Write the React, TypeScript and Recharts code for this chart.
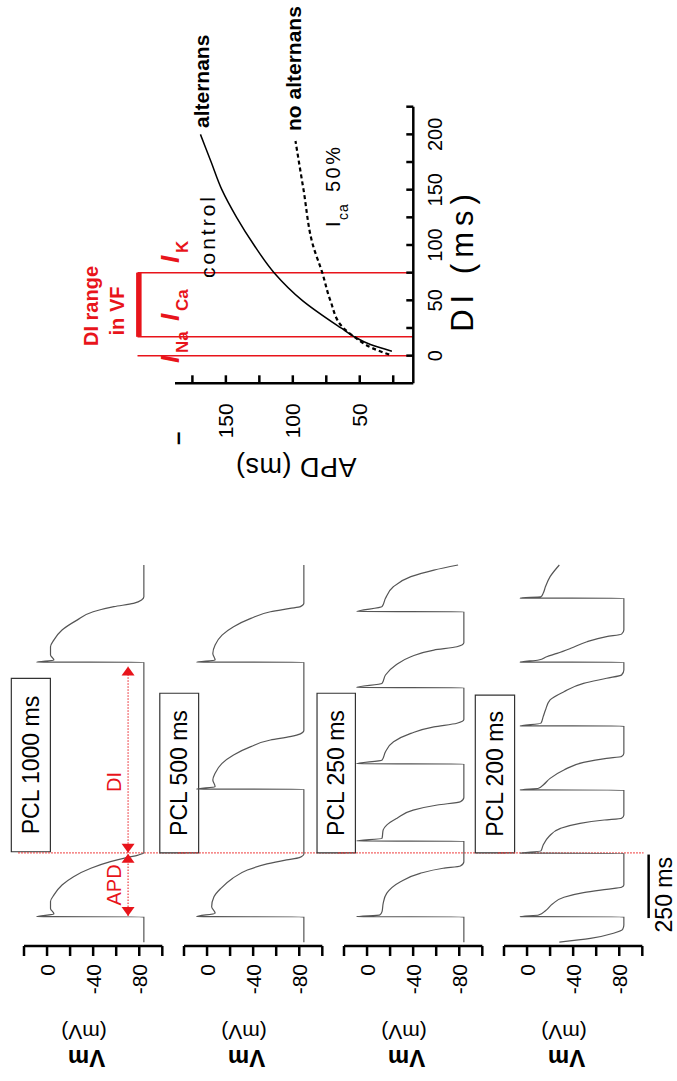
import React from 'react';
import {
  LineChart,
  Line,
  XAxis,
  YAxis,
  ReferenceLine,
  ReferenceArea
} from 'recharts';

const RED = '#e8141b';
const FONT = '"Liberation Sans", Arial, Helvetica, sans-serif';

// membrane potential traces: [time (ms), Vm (mV)]
const trace1000 = [
  [15, -84], [115, -84], [115.5, 9], [126, -6], [148, -3], [175, -3], [201, -6], [240, -13],
  [273, -23], [306, -38], [332, -55], [348, -69], [358, -79], [367, -84], [1117, -84],
  [1117.5, 9], [1126, -6], [1146, -3], [1178, -3], [1205, -6], [1244, -13], [1283, -26],
  [1316, -40], [1336, -58], [1349, -75], [1362, -82], [1375, -84], [1500, -84]
];
const trace500 = [
  [15, -84], [115, -84], [115.5, 9], [129, -7], [155, -4], [194, -6], [227, -12], [266, -22],
  [299, -35], [323, -52], [339, -69], [348, -80], [362, -84], [617, -84], [617.5, 9], [627, -7],
  [654, -5], [680, -7], [719, -13], [752, -23], [785, -38], [811, -55], [824, -72], [835, -81],
  [848, -84], [1117, -84], [1117.5, 9], [1126, -7], [1152, -5], [1185, -7], [1224, -13],
  [1257, -23], [1290, -38], [1316, -55], [1329, -72], [1336, -81], [1349, -84], [1500, -84]
];
const trace250 = [
  [15, -84], [115, -84], [115.5, 9], [122, -11], [135, -13], [168, -14], [207, -17], [253, -29],
  [286, -46], [306, -66], [315, -81], [332, -84], [413, -84], [413.5, 9], [424, -13], [457, -14],
  [476, -17], [503, -26], [535, -40], [555, -61], [568, -81], [585, -84], [717, -84], [717.5, 9],
  [732, -13], [765, -16], [804, -23], [837, -38], [863, -58], [877, -78], [892, -84], [1017, -84],
  [1017.5, 9], [1034, -13], [1067, -16], [1106, -25], [1139, -38], [1165, -58], [1178, -78],
  [1194, -84], [1316, -84], [1316.5, 9], [1336, -13], [1369, -16], [1415, -23], [1454, -38],
  [1480, -58], [1500, -79]
];
const trace200 = [
  [15, -28], [30, -55], [50, -75], [66, -83], [83, -84], [115, -84], [115.5, 6], [122, -10],
  [139, -16], [165, -22], [192, -32], [210, -49], [223, -69], [231, -82], [240, -84], [365, -84],
  [365.5, 6], [374, -12], [398, -14], [431, -19], [463, -29], [483, -46], [496, -67], [503, -82],
  [516, -84], [614, -84], [614.5, 6], [621, -10], [634, -14], [660, -20], [693, -32], [723, -49],
  [739, -69], [746, -82], [759, -84], [866, -84], [866.5, 6], [877, -12], [903, -14], [929, -16],
  [969, -20], [1001, -32], [1034, -49], [1054, -69], [1067, -82], [1087, -84], [1117, -84],
  [1117.5, 6], [1126, -10], [1139, -17], [1152, -26], [1172, -38], [1198, -52], [1218, -69],
  [1228, -82], [1244, -84], [1369, -84], [1369.5, 6], [1375, -12], [1389, -14], [1415, -16],
  [1454, -20], [1500, -28]
];

const traces = [trace1000, trace500, trace250, trace200];
const pclLabels = ['PCL 1000 ms', 'PCL 500 ms', 'PCL 250 ms', 'PCL 200 ms'];
const boxTime = [[371, 1054], [367, 995], [367, 995], [367, 988]];
const boxVm = [[31, -2.9], [41, 7.3], [43.4, 10.1], [44.9, 10.8]];
const vmTicks = [-100, -80, -60, -40, -20, 0, 20];
const apdEndTime = 367;

// APD restitution: [DI (ms), APD (ms)]
const controlCurve = [
  [4, 26], [10, 42], [17, 54], [25, 64], [50, 93], [75, 114], [100, 129], [125, 142],
  [150, 153], [175, 161], [200, 169]
];
const ica50Curve = [
  [1, 28], [7, 41], [17, 54], [26, 63], [50, 72], [75, 78], [100, 85], [150, 92], [194, 98]
];
const diTicks = [0, 25, 50, 75, 100, 125, 150, 175, 200, 225];
const apdTicks = [25, 50, 75, 100, 125, 150, 175];
const currentBounds = [0, 17, 75];

const arrowShape = (label: string, pos: number) => (props: any) => {
  const { x1, y1, x2 } = props;
  const a = 9;
  const w = 6.5;
  return (
    <g>
      <line x1={x1} y1={y1} x2={x2} y2={y1} stroke={RED} strokeWidth={1} strokeDasharray="1.5 1.5" />
      <polygon points={`${x1},${y1} ${x1 + a},${y1 - w} ${x1 + a},${y1 + w}`} fill={RED} />
      <polygon points={`${x2},${y1} ${x2 - a},${y1 - w} ${x2 - a},${y1 + w}`} fill={RED} />
      <text x={x1 + (x2 - x1) * pos} y={y1 - 7} textAnchor="middle" fill={RED} fontSize={20}>
        {label}
      </text>
    </g>
  );
};

const ApdTick = (props: any) => {
  const { x, y, payload } = props;
  return (
    <g>
      <line x1={x} y1={y} x2={x + 8} y2={y} stroke="#000" strokeWidth={2.5} />
      {payload.value % 50 === 0 && (
        <text x={x - 20} y={y} dy="0.35em" textAnchor="end" fontSize={21} fill="#000">
          {payload.value}
        </text>
      )}
    </g>
  );
};

const DiTick = (props: any) => {
  const { x, y, payload } = props;
  return (
    <g>
      <line x1={x} y1={y} x2={x} y2={y - 7} stroke="#000" strokeWidth={2.5} />
      {payload.value % 50 === 0 && (
        <text x={x} y={y + 29} textAnchor="middle" fontSize={20} fill="#000">
          {payload.value}
        </text>
      )}
    </g>
  );
};

const VmPanel = ({ idx }: { idx: number }) => {
  const data = traces[idx].map(([t, v]) => ({ t, v }));
  const last = idx === 3;
  return (
    <div style={{ position: 'absolute', left: 0, top: 160 * idx - 10 }}>
      <LineChart width={540} height={215} margin={{ top: 34, right: 24, bottom: 42.7, left: 75 }}>
        <XAxis type="number" dataKey="t" domain={[0, 1500]} hide height={0} />
        <YAxis
          type="number"
          domain={[-100, 20]}
          ticks={vmTicks}
          interval={0}
          width={60}
          tickSize={10}
          tickMargin={8}
          tickFormatter={(v: number) => (v % 40 === 0 ? String(v) : '')}
          axisLine={{ stroke: '#000', strokeWidth: 2.5 }}
          tickLine={{ stroke: '#000', strokeWidth: 2.5 }}
          tick={{ fill: '#000', fontSize: 21 }}
        />
        <ReferenceArea
          x1={boxTime[idx][0]}
          x2={boxTime[idx][1]}
          y1={boxVm[idx][0]}
          y2={boxVm[idx][1]}
          ifOverflow="visible"
          fill="#fff"
          fillOpacity={1}
          stroke="#333"
          strokeWidth={1.2}
          label={{ value: pclLabels[idx], position: 'center', fill: '#000', fontSize: 23 }}
        />
        <ReferenceLine
          segment={[{ x: apdEndTime, y: 25 }, { x: apdEndTime, y: last ? -101 : -120 }]}
          stroke="#ee3333"
          strokeWidth={1.2}
          strokeDasharray="1.5 1.5"
          ifOverflow="visible"
        />
        <Line
          data={data}
          dataKey="v"
          type="monotone"
          dot={false}
          stroke="#555"
          strokeWidth={1.2}
          isAnimationActive={false}
        />
        {idx === 0 && (
          <ReferenceLine
            segment={[{ x: 118, y: -70.3 }, { x: 363, y: -70.3 }]}
            ifOverflow="visible"
            shape={arrowShape('APD', 0.5)}
          />
        )}
        {idx === 0 && (
          <ReferenceLine
            segment={[{ x: 367, y: -70.3 }, { x: 1100, y: -70.3 }]}
            ifOverflow="visible"
            shape={arrowShape('DI', 0.38)}
          />
        )}
        {last && (
          <ReferenceLine
            segment={[{ x: 110, y: -105.5 }, { x: 360, y: -105.5 }]}
            stroke="#000"
            strokeWidth={2.5}
            ifOverflow="visible"
          />
        )}
      </LineChart>
    </div>
  );
};

const RestitutionPanel = () => {
  const control = controlCurve.map(([di, apd]) => ({ di, apd }));
  const ica50 = ica50Curve.map(([di, apd]) => ({ di, apd }));
  return (
    <div style={{ position: 'absolute', left: 560, top: 0 }}>
      <LineChart width={521} height={520} margin={{ top: 175, right: 106.7, bottom: 76.7, left: 77.7 }}>
        <XAxis
          type="number"
          dataKey="di"
          domain={[-25, 225]}
          ticks={diTicks}
          interval={0}
          height={30}
          tickLine={false}
          tickSize={0}
          tickMargin={0}
          axisLine={{ stroke: '#000', strokeWidth: 2.5 }}
          tick={DiTick}
        />
        <YAxis
          type="number"
          domain={[10, 188]}
          ticks={apdTicks}
          interval={0}
          width={60}
          tickLine={false}
          tickSize={0}
          tickMargin={0}
          axisLine={{ stroke: '#000', strokeWidth: 2.5 }}
          tick={ApdTick}
        />
        {currentBounds.map(d => (
          <ReferenceLine
            key={d}
            segment={[{ x: d, y: 10 }, { x: d, y: 216 }]}
            stroke={RED}
            strokeWidth={1.5}
            ifOverflow="visible"
          />
        ))}
        <ReferenceLine
          segment={[{ x: 17, y: 215 }, { x: 75, y: 215 }]}
          stroke={RED}
          strokeWidth={5.5}
          ifOverflow="visible"
        />
        <Line
          data={control}
          dataKey="apd"
          type="monotone"
          dot={false}
          stroke="#000"
          strokeWidth={1.5}
          isAnimationActive={false}
        />
        <Line
          data={ica50}
          dataKey="apd"
          type="monotone"
          dot={false}
          stroke="#000"
          strokeWidth={2.2}
          strokeDasharray="4 3"
          isAnimationActive={false}
        />
      </LineChart>
    </div>
  );
};

const Sub = ({ x, y, main, sub }: any) => (
  <g fill={RED} fontWeight="bold">
    <text x={x} y={y} fontSize={26} fontStyle="italic">{main}</text>
    <text x={x + 10} y={y + 9} fontSize={17}>{sub}</text>
  </g>
);

const Annotations = () => (
  <svg
    width={1081}
    height={677}
    style={{ position: 'absolute', left: 0, top: 0, fontFamily: FONT, pointerEvents: 'none' }}
  >
    {[0, 1, 2, 3].map(k => (
      <g key={k}>
        <text transform={`translate(31, ${86.5 + 160 * k}) rotate(-90)`} textAnchor="middle" fontSize={24} fontWeight="bold">
          Vm
        </text>
        <text transform={`translate(56, ${84 + 160 * k}) rotate(-90)`} textAnchor="middle" fontSize={21}>
          (mV)
        </text>
      </g>
    ))}
    <text x={224} y={672} textAnchor="end" fontSize={23}>250 ms</text>

    <text transform="translate(623, 296) rotate(-90)" textAnchor="middle" fontSize={27} letterSpacing={0.5}>
      APD (ms)
    </text>
    <text x={636} y={185} fontSize={24} fontWeight="bold">–</text>
    <text x={821} y={473} textAnchor="middle" fontSize={31} letterSpacing={6}>DI (ms)</text>

    <text x={775} y={97.5} textAnchor="middle" fontSize={20} fontWeight="bold" fill={RED}>DI range</text>
    <text x={770} y={124} textAnchor="middle" fontSize={20} fontWeight="bold" fill={RED}>in VF</text>
    <Sub x={718} y={179} main="I" sub="Na" />
    <Sub x={760} y={179} main="I" sub="Ca" />
    <Sub x={818} y={179} main="I" sub="K" />

    <text x={953} y={209} fontSize={21} fontWeight="bold">alternans</text>
    <text x={950} y={301} fontSize={21} fontWeight="bold">no alternans</text>
    <text x={803} y={215} fontSize={21} letterSpacing={3}>control</text>
    <text x={854} y={340} fontSize={20}>I</text>
    <text x={861} y={348} fontSize={14} letterSpacing={1}>ca</text>
    <text x={889} y={340} fontSize={20} letterSpacing={2.5}>50%</text>
  </svg>
);

export default function App() {
  return (
    <div
      style={{
        position: 'absolute',
        left: 0,
        top: 0,
        width: 677,
        height: 1081,
        overflow: 'hidden',
        background: '#fff',
        fontFamily: FONT
      }}
    >
      <div
        style={{
          position: 'absolute',
          left: 0,
          top: 0,
          width: 1081,
          height: 677,
          transformOrigin: '0 0',
          transform: 'translate(0px, 1081px) rotate(-90deg)'
        }}
      >
        {[0, 1, 2, 3].map(k => (
          <VmPanel key={k} idx={k} />
        ))}
        <RestitutionPanel />
        <Annotations />
      </div>
    </div>
  );
}
